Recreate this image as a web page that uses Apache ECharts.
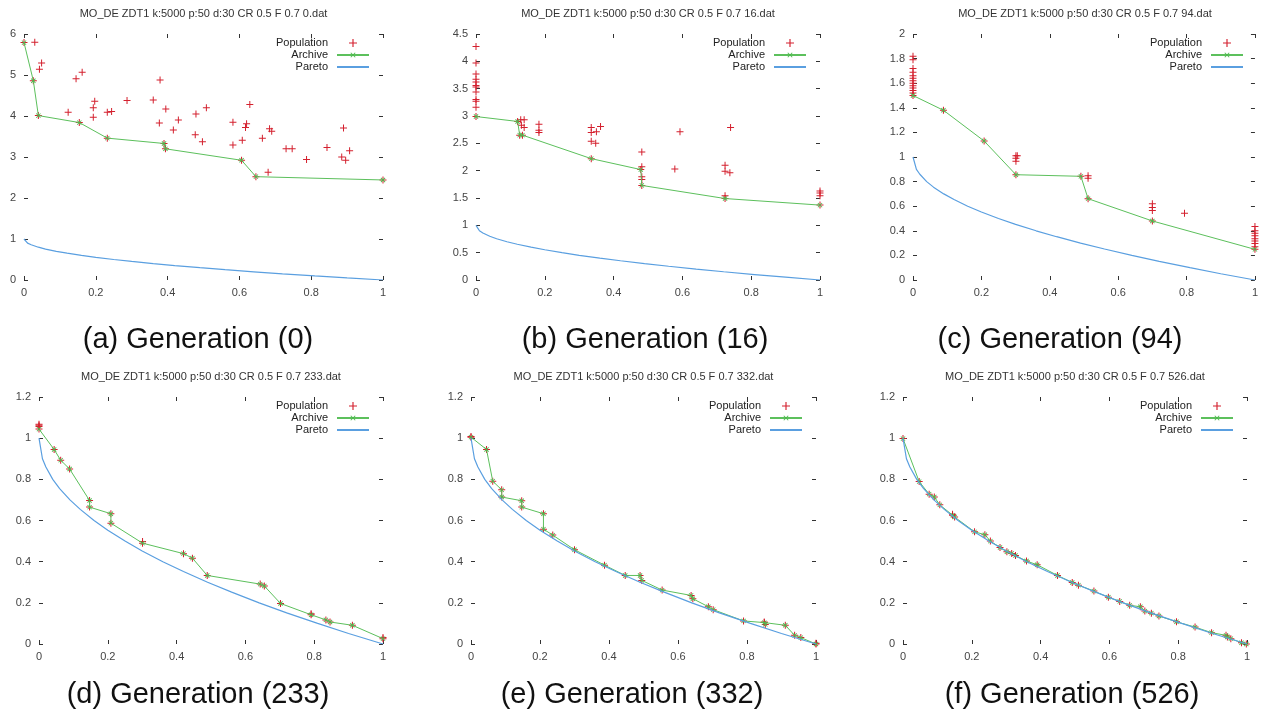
<!DOCTYPE html>
<html lang="en">
<head>
<meta charset="UTF-8">
<title>MO_DE ZDT1 generations</title>
<script src="https://cdn.jsdelivr.net/npm/echarts@6.0.0/dist/echarts.min.js"></script>
<style>
  html, body { margin: 0; padding: 0; background: #fff; }
  #chart { width: 1261px; height: 720px; }
</style>
</head>
<body>
<div id="chart"></div>
<script>
// generations shown in the six panels
var generations = [0, 16, 94, 233, 332, 526];
var letters = ['a', 'b', 'c', 'd', 'e', 'f'];
var yMaxes = [6, 4.5, 2, 1.2, 1.2, 1.2];
var yIntervals = [1, 0.5, 0.2, 0.2, 0.2, 0.2];

// true ZDT1 front
var pareto = [[0,1],[0.01,0.9],[0.02,0.86],[0.04,0.8],[0.06,0.755],[0.09,0.7],[0.12,0.654],
  [0.16,0.6],[0.2,0.553],[0.25,0.5],[0.3,0.452],[0.36,0.4],[0.42,0.352],[0.49,0.3],
  [0.56,0.252],[0.64,0.2],[0.72,0.151],[0.81,0.1],[0.9,0.051],[1,0]];

// gen 0
var archiveA = [[0,5.79],[0.026,4.86],[0.04,4.01],[0.154,3.84],[0.232,3.46],[0.39,3.33],
  [0.394,3.2],[0.606,2.92],[0.646,2.52],[1,2.44]];
var popA = [[0.03,5.8],[0.043,5.14],[0.049,5.29],[0.145,4.91],[0.162,5.07],[0.123,4.09],
  [0.197,4.36],[0.193,4.2],[0.193,3.97],[0.232,4.09],[0.244,4.11],[0.287,4.38],[0.36,4.39],
  [0.379,4.88],[0.395,4.17],[0.377,3.83],[0.416,3.66],[0.43,3.9],[0.479,4.05],[0.508,4.2],
  [0.477,3.54],[0.497,3.37],[0.582,3.85],[0.582,3.29],[0.629,4.28],[0.62,3.81],[0.617,3.72],
  [0.608,3.41],[0.664,3.46],[0.684,3.69],[0.69,3.63],[0.68,2.63],[0.73,3.2],[0.747,3.2],
  [0.787,2.94],[0.844,3.23],[0.89,3.71],[0.885,3],[0.896,2.92],[0.907,3.15]];

// gen 16
var archiveB = [[0,2.99],[0.121,2.9],[0.127,2.65],[0.135,2.65],[0.335,2.22],[0.479,2.02],
  [0.482,1.73],[0.724,1.49],[1,1.37]];
var popB = [[0,4.27],[0,3.97],[0,3.77],[0,3.67],[0,3.62],[0,3.56],[0,3.53],[0,3.44],[0,3.3],
  [0,3.27],[0,3.16],[0.13,2.93],[0.14,2.93],[0.132,2.83],[0.14,2.79],[0.183,2.85],[0.183,2.74],
  [0.183,2.7],[0.335,2.79],[0.335,2.7],[0.35,2.71],[0.362,2.81],[0.335,2.54],[0.348,2.5],
  [0.482,2.34],[0.482,2.07],[0.482,1.89],[0.482,1.84],[0.578,2.03],[0.593,2.71],[0.724,2.1],
  [0.724,1.99],[0.738,1.96],[0.74,2.79],[0.724,1.54],[1,1.63],[1,1.59],[1,1.54]];

// gen 94
var archiveC = [[0,1.5],[0.089,1.38],[0.208,1.13],[0.301,0.856],[0.491,0.843],[0.512,0.661],
  [0.7,0.48],[1,0.249]];
var popC = [[0,1.82],[0,1.79],[0,1.72],[0,1.69],[0,1.66],[0,1.64],[0,1.62],[0,1.6],[0,1.58],
  [0,1.56],[0,1.54],[0,1.52],[0.301,1.01],[0.301,0.99],[0.301,0.965],[0.305,1.01],[0.512,0.848],
  [0.512,0.827],[0.7,0.62],[0.7,0.59],[0.7,0.565],[0.794,0.542],[1,0.434],[1,0.4],[1,0.38],
  [1,0.36],[1,0.336],[1,0.317],[1,0.296],[1,0.27]];

// gen 233
var archiveD = [[0,1.044],[0.044,0.945],[0.063,0.893],[0.089,0.85],[0.147,0.697],[0.147,0.665],
  [0.209,0.633],[0.209,0.587],[0.301,0.49],[0.42,0.439],[0.446,0.417],[0.489,0.333],
  [0.643,0.291],[0.655,0.282],[0.702,0.197],[0.791,0.142],[0.834,0.117],[0.846,0.107],
  [0.911,0.091],[1,0.026]];
var popD = [[0,1.068],[0,1.063],[0,1.057],[0.301,0.498],[0.791,0.147],[1,0.031]];

// gen 332
var archiveE = [[0,1.005],[0.045,0.945],[0.063,0.791],[0.089,0.749],[0.089,0.714],[0.147,0.696],
  [0.147,0.665],[0.21,0.633],[0.21,0.558],[0.237,0.529],[0.3,0.458],[0.387,0.383],[0.447,0.333],
  [0.49,0.333],[0.495,0.309],[0.554,0.262],[0.638,0.236],[0.643,0.22],[0.688,0.181],
  [0.702,0.167],[0.79,0.112],[0.85,0.104],[0.853,0.095],[0.911,0.091],[0.938,0.042],
  [0.956,0.031],[1,0]];
var popE = [[0,1.008],[0.85,0.107],[1,0.004]];

// gen 526
var archiveF = [[0,0.998],[0.047,0.789],[0.076,0.728],[0.091,0.714],[0.107,0.676],[0.144,0.626],
  [0.15,0.617],[0.208,0.545],[0.238,0.531],[0.254,0.5],[0.282,0.469],[0.302,0.448],[0.316,0.44],
  [0.327,0.43],[0.359,0.403],[0.39,0.385],[0.449,0.333],[0.492,0.299],[0.51,0.286],[0.555,0.257],
  [0.597,0.227],[0.63,0.207],[0.659,0.188],[0.69,0.181],[0.703,0.16],[0.722,0.15],[0.744,0.136],
  [0.795,0.108],[0.849,0.082],[0.897,0.055],[0.939,0.042],[0.943,0.034],[0.953,0.026],
  [0.984,0.006],[0.998,0]];
var popF = [[0.144,0.63]];

var archives = [archiveA, archiveB, archiveC, archiveD, archiveE, archiveF];
var pops = [popA, popB, popC, popD, popE, popF];

// plot boxes in pixels
var layouts = [
  {left: 24,  top: 34,  width: 359, height: 246, capX: 198,  capY: 340},
  {left: 476, top: 34,  width: 344, height: 246, capX: 645,  capY: 340},
  {left: 913, top: 34,  width: 344, height: 246, capX: 1060, capY: 340},
  {left: 39,  top: 397, width: 344, height: 247, capX: 198,  capY: 695},
  {left: 471, top: 397, width: 345, height: 247, capX: 632,  capY: 695},
  {left: 903, top: 397, width: 344, height: 247, capX: 1072, capY: 695}
];

var plusPath = 'path://M-0.5,-3.5h1v7h-1zM-3.5,-0.5h7v1h-7z';
var font = 'Liberation Sans';
var W = 1261;

var option = {
  animation: false,
  backgroundColor: '#fff',
  grid: [], xAxis: [], yAxis: [], legend: [], series: [], graphic: []
};

layouts.forEach(function (L, i) {
  option.grid.push({left: L.left, top: L.top, width: L.width, height: L.height});

  var tick = {inside: true, length: 4, lineStyle: {color: '#333', width: 1}};
  var noLine = {show: false, onZero: false};
  var lbl = {color: '#444', fontSize: 11, fontFamily: font};

  // gnuplot style: ticks mirrored on all four sides, no border line
  option.xAxis.push({type: 'value', gridIndex: i, position: 'bottom', min: 0, max: 1, interval: 0.2,
    axisLine: noLine, splitLine: {show: false}, axisTick: tick,
    axisLabel: Object.assign({margin: 7}, lbl)});
  option.xAxis.push({type: 'value', gridIndex: i, position: 'top', min: 0, max: 1, interval: 0.2,
    axisLine: noLine, splitLine: {show: false}, axisTick: tick, axisLabel: {show: false}});
  option.yAxis.push({type: 'value', gridIndex: i, position: 'left', min: 0, max: yMaxes[i], interval: yIntervals[i],
    axisLine: noLine, splitLine: {show: false}, axisTick: tick,
    axisLabel: Object.assign({margin: 8}, lbl)});
  option.yAxis.push({type: 'value', gridIndex: i, position: 'right', min: 0, max: yMaxes[i], interval: yIntervals[i],
    axisLine: noLine, splitLine: {show: false}, axisTick: tick, axisLabel: {show: false}});

  option.legend.push({
    orient: 'vertical', align: 'right', selectedMode: false, padding: 0,
    right: W - (L.left + L.width - 13), top: L.top + 3,
    itemWidth: 32, itemHeight: 8, itemGap: 0,
    textStyle: {fontSize: 11, lineHeight: 12, color: '#222', fontFamily: font, padding: [0, 4, 0, 0]},
    data: ['Population', 'Archive', {name: 'Pareto', itemStyle: {opacity: 0}}]
  });

  var xi = i * 2, yi = i * 2;
  option.series.push({
    name: 'Population', type: 'scatter', xAxisIndex: xi, yAxisIndex: yi,
    symbol: plusPath, symbolSize: 7, symbolKeepAspect: true,
    itemStyle: {color: '#d4202e', opacity: 1},
    data: pops[i].concat(archives[i]), z: 2
  });
  option.series.push({
    name: 'Archive', type: 'line', xAxisIndex: xi, yAxisIndex: yi,
    symbol: plusPath, symbolSize: 6, symbolRotate: 45, symbolKeepAspect: true, showAllSymbol: true,
    itemStyle: {color: '#4cb84c'}, lineStyle: {color: '#5cc05c', width: 1},
    data: archives[i], z: 3
  });
  option.series.push({
    name: 'Pareto', type: 'line', xAxisIndex: xi, yAxisIndex: yi,
    symbol: 'none', lineStyle: {color: '#5a9fe0', width: 1.2},
    itemStyle: {color: '#5a9fe0'},
    data: pareto, z: 4
  });

  option.graphic.push({
    type: 'text', x: L.left + L.width / 2, y: L.top - 20,
    style: {text: 'MO_DE ZDT1 k:5000 p:50 d:30 CR 0.5 F 0.7 ' + generations[i] + '.dat',
      fill: '#333', font: '11px "' + font + '"', align: 'center', verticalAlign: 'middle'}
  });
  option.graphic.push({
    type: 'text', x: L.capX, y: L.capY,
    style: {text: '(' + letters[i] + ') Generation (' + generations[i] + ')',
      fill: '#111', font: '29px "' + font + '"', align: 'center', verticalAlign: 'middle'}
  });
});

var chart = echarts.init(document.getElementById('chart'));
chart.setOption(option);
</script>
</body>
</html>
